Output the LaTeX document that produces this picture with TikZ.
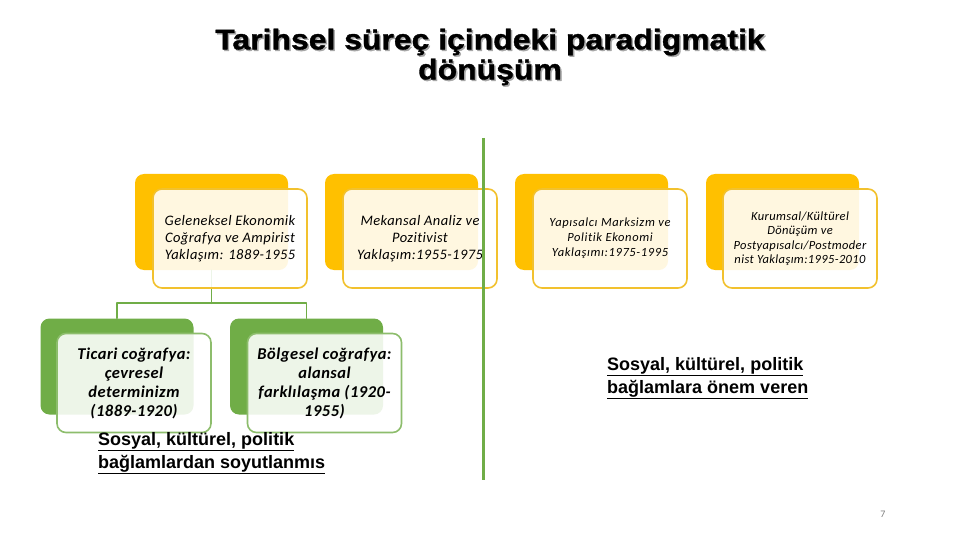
\documentclass[tikz,border=0pt]{standalone}
\usepackage{fontspec}
\setmainfont{Carlito}
\newfontfamily\arialfont{Liberation Sans}
\newfontfamily\baslikfont[FakeStretch=1.12, FakeBold=1.2]{Liberation Sans}
\newfontfamily\kutufont[LetterSpace=3, RawFeature=-liga]{Carlito}
\newfontfamily\incefont[LetterSpace=5, RawFeature=-liga]{Carlito}
\usetikzlibrary{positioning}
\definecolor{sari}{HTML}{FFC000}
\definecolor{sarikenar}{HTML}{F2C12E}
\definecolor{yesil}{HTML}{70AD47}
\tikzset{
	arka/.style={rounded corners=9pt, minimum width=153pt, minimum height=96pt, inner sep=0pt},
	on/.style={rounded corners=9pt, draw, line width=1.6pt, fill=white, fill opacity=0.88, text opacity=1, minimum width=154pt, minimum height=99pt, align=center, inner sep=1pt},
	baslik/.style={font=\baslikfont\bfseries\fontsize{28.5}{30}\selectfont, align=center},
	vurgu/.style={font=\arialfont\bfseries\fontsize{18}{23}\selectfont, align=left, inner sep=0pt}
}
\begin{document}
\begin{tikzpicture}[x=1pt, y=-1pt, line join=round, line cap=round]
	\useasboundingbox[fill=white] (0,0) rectangle (960,540);
	% baslik
	\node[baslik, text=gray!70, xshift=1.5pt, yshift=-1.5pt] at (490,57) {Tarihsel süreç içindeki paradigmatik\\dönüşüm};
	\node[baslik] (baslik) at (490,57) {Tarihsel süreç içindeki paradigmatik\\dönüşüm};
	% arka kutular
	\node[arka, fill=sari] (gelA) at (211.5,222) {};
	\node[arka, fill=sari] (mekA) at (401.5,222) {};
	\node[arka, fill=sari] (yapA) at (591.5,222) {};
	\node[arka, fill=sari] (kurA) at (782.5,222) {};
	\node[arka, fill=yesil] (ticA) at (117,366.5) {};
	\node[arka, fill=yesil] (bolA) at (306.5,366.5) {};
	% baglantilar
	\draw[yesil, line width=1.6pt] (gelA.south) -- ++(0,33) coordinate (ayrim);
	\draw[yesil, line width=1.6pt] (ticA.north) |- (ayrim) -| (bolA.north);
	% on kutular
	\node[on, draw=sarikenar, font=\kutufont\itshape\fontsize{14.5}{17}\selectfont] (geleneksel) at (230,238.5) {Geleneksel Ekonomik\\Coğrafya ve Ampirist\\Yaklaşım: 1889-1955};
	\node[on, draw=sarikenar, font=\kutufont\itshape\fontsize{14.5}{17}\selectfont] (mekansal) at (420,238.5) {Mekansal Analiz ve\\Pozitivist\\Yaklaşım:1955-1975};
	\node[on, draw=sarikenar, font=\incefont\itshape\fontsize{12.5}{15}\selectfont] (yapisalci) at (610,238.5) {Yapısalcı Marksizm ve\\Politik Ekonomi\\Yaklaşımı:1975-1995};
	\node[on, draw=sarikenar, font=\kutufont\itshape\fontsize{12.5}{14.5}\selectfont] (kurumsal) at (800,238.5) {Kurumsal/Kültürel\\Dönüşüm ve\\Postyapısalcı/Postmoder\\nist Yaklaşım:1995-2010};
	\node[on, draw=yesil!80, font=\kutufont\bfseries\itshape\fontsize{16.5}{19}\selectfont] (ticari) at (134,383) {Ticari coğrafya:\\çevresel\\determinizm\\(1889-1920)};
	\node[on, draw=yesil!80, font=\kutufont\bfseries\itshape\fontsize{16.5}{19}\selectfont] (bolgesel) at (324.5,383) {Bölgesel coğrafya:\\alansal\\farklılaşma (1920-\\1955)};
	% ayirici cizgi
	\draw[yesil, line width=3pt, line cap=butt] (483,138) -- (483,480);
	% vurgu yazilari
	\node[vurgu, anchor=north west] (soyut) at (98,432) {\underline{Sosyal, kültürel, politik}\\\underline{bağlamlardan soyutlanmıs}};
	\node[vurgu, anchor=north west] (onem) at (607,357) {\underline{Sosyal, kültürel, politik}\\\underline{bağlamlara önem veren}};
	\node[text=gray, font=\fontsize{10}{12}\selectfont] (sayfa) at (883,514) {7};
\end{tikzpicture}
\end{document}
